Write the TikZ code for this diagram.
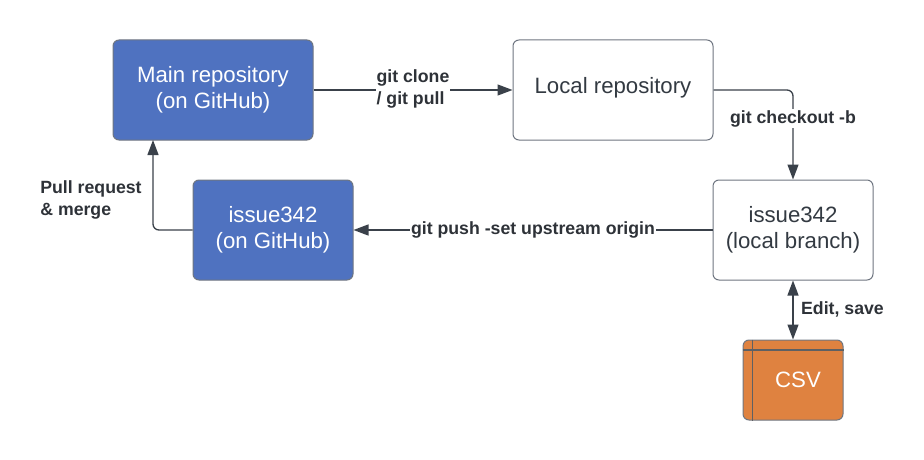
\documentclass[tikz,border=0pt]{standalone}
\usepackage{fontspec}
\setmainfont{Liberation Sans}
\usetikzlibrary{arrows.meta}
\definecolor{bluefill}{HTML}{4F72C0}
\definecolor{orangefill}{HTML}{DF8240}
\definecolor{edgegray}{HTML}{6F7681}
\definecolor{lanegray}{HTML}{5E6063}
\definecolor{linecol}{HTML}{3A414A}
\definecolor{txtcol}{HTML}{333A42}
\definecolor{lbl}{HTML}{2E3238}
\newcommand{\liftup}{\rule[-10pt]{0pt}{10pt}}
\tikzset{
  x=1pt,y=-1pt,
  boxbase/.style={draw=edgegray,line width=1pt,rounded corners=6pt,inner sep=0pt,align=center,font=\fontsize{22.2}{26.5}\selectfont},
  bluebox/.style={boxbase,fill=bluefill,text=white},
  whitebox/.style={boxbase,fill=white,text=txtcol},
  orangebox/.style={boxbase,fill=orangefill,text=white,minimum width=100pt,minimum height=80pt},
  conn/.style={draw=linecol,line width=1.3pt,rounded corners=6pt,-{Triangle[length=15pt,width=11pt]}},
  connboth/.style={draw=linecol,line width=1.3pt,{Triangle[length=15pt,width=11pt]}-{Triangle[length=15pt,width=11pt]}},
  lab/.style={font=\bfseries\fontsize{17.7}{22}\selectfont,text=lbl,align=left,inner sep=1pt},
  labbg/.style={lab,fill=white},
  lanerule/.style={draw=lanegray,line width=1.3pt},
}
\begin{document}
\begin{tikzpicture}
\useasboundingbox (0,0) rectangle (924,460);
\node[bluebox,minimum width=200pt,minimum height=100pt] (main) at (213,90) {Main repository\\(on GitHub)};
\node[whitebox,minimum width=200pt,minimum height=100pt] (localrepo) at (613,90) {Local repository\liftup};
\node[bluebox,minimum width=160pt,minimum height=100pt] (gh) at (273,230) {issue342\\(on GitHub)};
\node[whitebox,minimum width=160pt,minimum height=100pt] (branch) at (793,230) {issue342\\(local branch)};
\node[orangebox] (csv) at (793,380) {\hspace*{10pt}CSV};
\draw[lanerule] ([xshift=10.3pt]csv.north west) -- ([xshift=10.3pt]csv.south west);
\draw[lanerule] ([yshift=-10.4pt]csv.north west) -- ([yshift=-10.4pt]csv.north east);
\coordinate (mainin) at (153,140);
\draw[conn] (main.east) -- (localrepo.west);
\draw[conn] (localrepo.east) -| (branch.north);
\draw[conn] (branch.west) -- (gh.east);
\draw[conn] (gh.west) -| (mainin);
\draw[connboth] (branch.south) -- (csv.north);
\node[labbg,anchor=center] (l1) at (413,88.5) {git clone\\/ git pull};
\node[labbg,anchor=center] (l2) at (793,118.5) {git checkout -b};
\node[labbg,anchor=center] (l3) at (533,229.5) {git push -set upstream origin};
\node[lab,anchor=center] (l4) at (91,199.5) {Pull request\\\& merge};
\node[lab,anchor=center] (l5) at (842.5,309) {Edit, save};
\end{tikzpicture}
\end{document}
